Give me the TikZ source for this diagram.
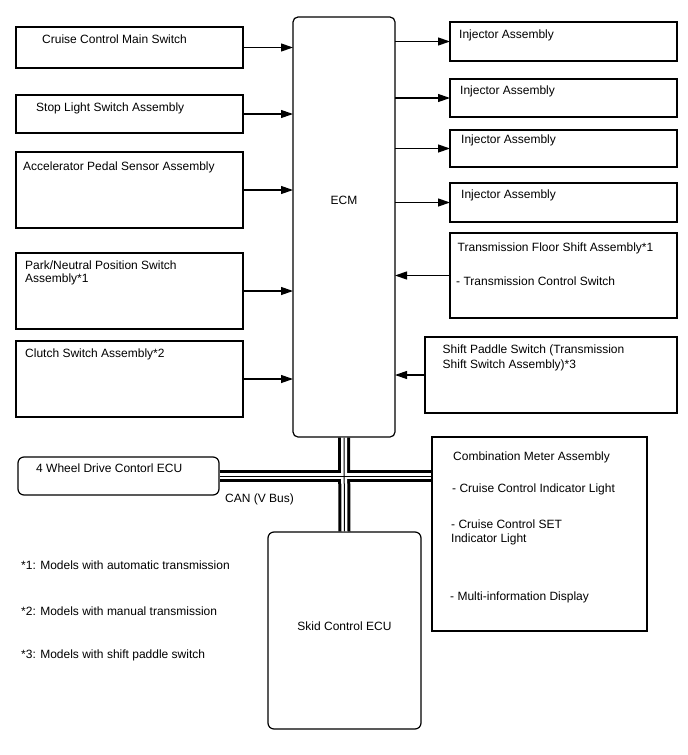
\documentclass[tikz,border=0pt]{standalone}
\usepackage{fontspec}
\setmainfont{Liberation Sans}
\usetikzlibrary{arrows.meta}
\begin{document}
\begin{tikzpicture}[x=1pt,y=-1pt,
 box/.style={draw=black, line width=1.2pt, rectangle, inner sep=0pt, outer sep=0pt, anchor=north west},
 rbox/.style={box, rounded corners=6pt},
 txt/.style={font=\fontsize{12}{14}\selectfont, anchor=base west, inner sep=0pt},
 ctxt/.style={font=\fontsize{12}{14}\selectfont, inner sep=0pt},
 arr/.style={line width=1.2pt, -{Triangle[length=12pt,width=8pt]}},
]
\useasboundingbox (0,0) rectangle (688,755);
\fill[white] (0,0) rectangle (688,755);

% left inputs
\node[box, minimum width=227pt, minimum height=41pt] (ccms) at (16,27) {};
\node[box, minimum width=227pt, minimum height=38pt] (stop) at (16,95) {};
\node[box, minimum width=227pt, minimum height=76pt] (accel) at (16,152) {};
\node[box, minimum width=227pt, minimum height=76pt] (park) at (16,253) {};
\node[box, minimum width=227pt, minimum height=76pt] (clutch) at (16,341) {};

% ECM
\node[box, rounded corners=5pt, minimum width=102pt, minimum height=420pt] (ecm) at (293,17) {};

% right outputs / inputs
\node[box, minimum width=227pt, minimum height=39pt] (inj1) at (450,22) {};
\node[box, minimum width=227pt, minimum height=38pt] (inj2) at (450,79) {};
\node[box, minimum width=227pt, minimum height=37pt] (inj3) at (450,130) {};
\node[box, minimum width=227pt, minimum height=39pt] (inj4) at (450,183) {};
\node[box, minimum width=227pt, minimum height=85pt] (tfs) at (450,233) {};
\node[box, minimum width=252pt, minimum height=76pt] (sps) at (425,337) {};

% CAN nodes
\node[rbox, minimum width=201pt, minimum height=38pt] (fwd) at (18,457) {};
\node[box, minimum width=215pt, minimum height=194pt] (cma) at (432,437) {};
\node[rbox, minimum width=153pt, minimum height=197pt] (skid) at (268,532) {};

% texts
\node[txt] (t-ccms) at (42,43.5) {Cruise Control Main Switch};
\node[txt] (t-stop) at (36,111.5) {Stop Light Switch Assembly};
\node[txt] (t-accel) at (23,170) {Accelerator Pedal Sensor Assembly};
\node[txt] (t-park1) at (25,269) {Park/Neutral Position Switch};
\node[txt] (t-park2) at (25,282) {Assembly*1};
\node[txt] (t-clutch) at (25,357) {Clutch Switch Assembly*2};
\node[ctxt] (t-ecm) at (344,200) {ECM};
\node[txt] (t-inj1) at (459,38) {Injector Assembly};
\node[txt] (t-inj2) at (460,94.5) {Injector Assembly};
\node[txt] (t-inj3) at (461,143.5) {Injector Assembly};
\node[txt] (t-inj4) at (461,198) {Injector Assembly};
\node[txt] (t-tfs1) at (457.5,251.5) {Transmission Floor Shift Assembly*1};
\node[txt] (t-tfs2) at (456,285.5) {- Transmission Control Switch};
\node[txt] (t-sps1) at (442.5,353.5) {Shift Paddle Switch (Transmission};
\node[txt] (t-sps2) at (442.5,368) {Shift Switch Assembly)*3};
\node[txt] (t-fwd) at (36,472) {4 Wheel Drive Contorl ECU};
\node[txt] (t-can) at (225,502) {CAN (V Bus)};
\node[txt] (t-cma1) at (453,460.5) {Combination Meter Assembly};
\node[txt] (t-cma2) at (452,492) {- Cruise Control Indicator Light};
\node[txt] (t-cma3) at (451,528) {- Cruise Control SET};
\node[txt] (t-cma4) at (451,542) {Indicator Light};
\node[txt] (t-cma5) at (450,600.5) {- Multi-information Display};
\node[ctxt] (t-skid) at (344.5,626) {Skid Control ECU};
\node[txt] (n1) at (21,569) {*1: Models with automatic transmission};
\node[txt] (n2) at (21,615) {*2: Models with manual transmission};
\node[txt] (n3) at (21,658) {*3: Models with shift paddle switch};

% arrows
\draw[arr] (ccms.east) -- (ccms.east -| ecm.west);
\draw[arr] (stop.east) -- (stop.east -| ecm.west);
\draw[arr] (accel.east) -- (accel.east -| ecm.west);
\draw[arr] (park.east) -- (park.east -| ecm.west);
\draw[arr] (clutch.east) -- (clutch.east -| ecm.west);
\draw[arr] (inj1.west -| ecm.east) -- (inj1.west);
\draw[arr] (inj2.west -| ecm.east) -- (inj2.west);
\draw[arr] (inj3.west -| ecm.east) -- (inj3.west);
\draw[arr] (inj4.west -| ecm.east) -- (inj4.west);
\draw[arr] (tfs.west) -- (tfs.west -| ecm.east);
\draw[arr] (sps.west) -- (sps.west -| ecm.east);

% CAN bus (triple line)
\foreach \w/\c in {12/black, 6/white, 1/black}{
  \draw[line width=\w pt, \c, shorten <=0.7pt, shorten >=0.7pt] (fwd.east) -- (fwd.east -| cma.west);
  \draw[line width=\w pt, \c, shorten <=0.7pt, shorten >=0.7pt] (ecm.south) -- (skid.north);
}
\end{tikzpicture}
\end{document}
